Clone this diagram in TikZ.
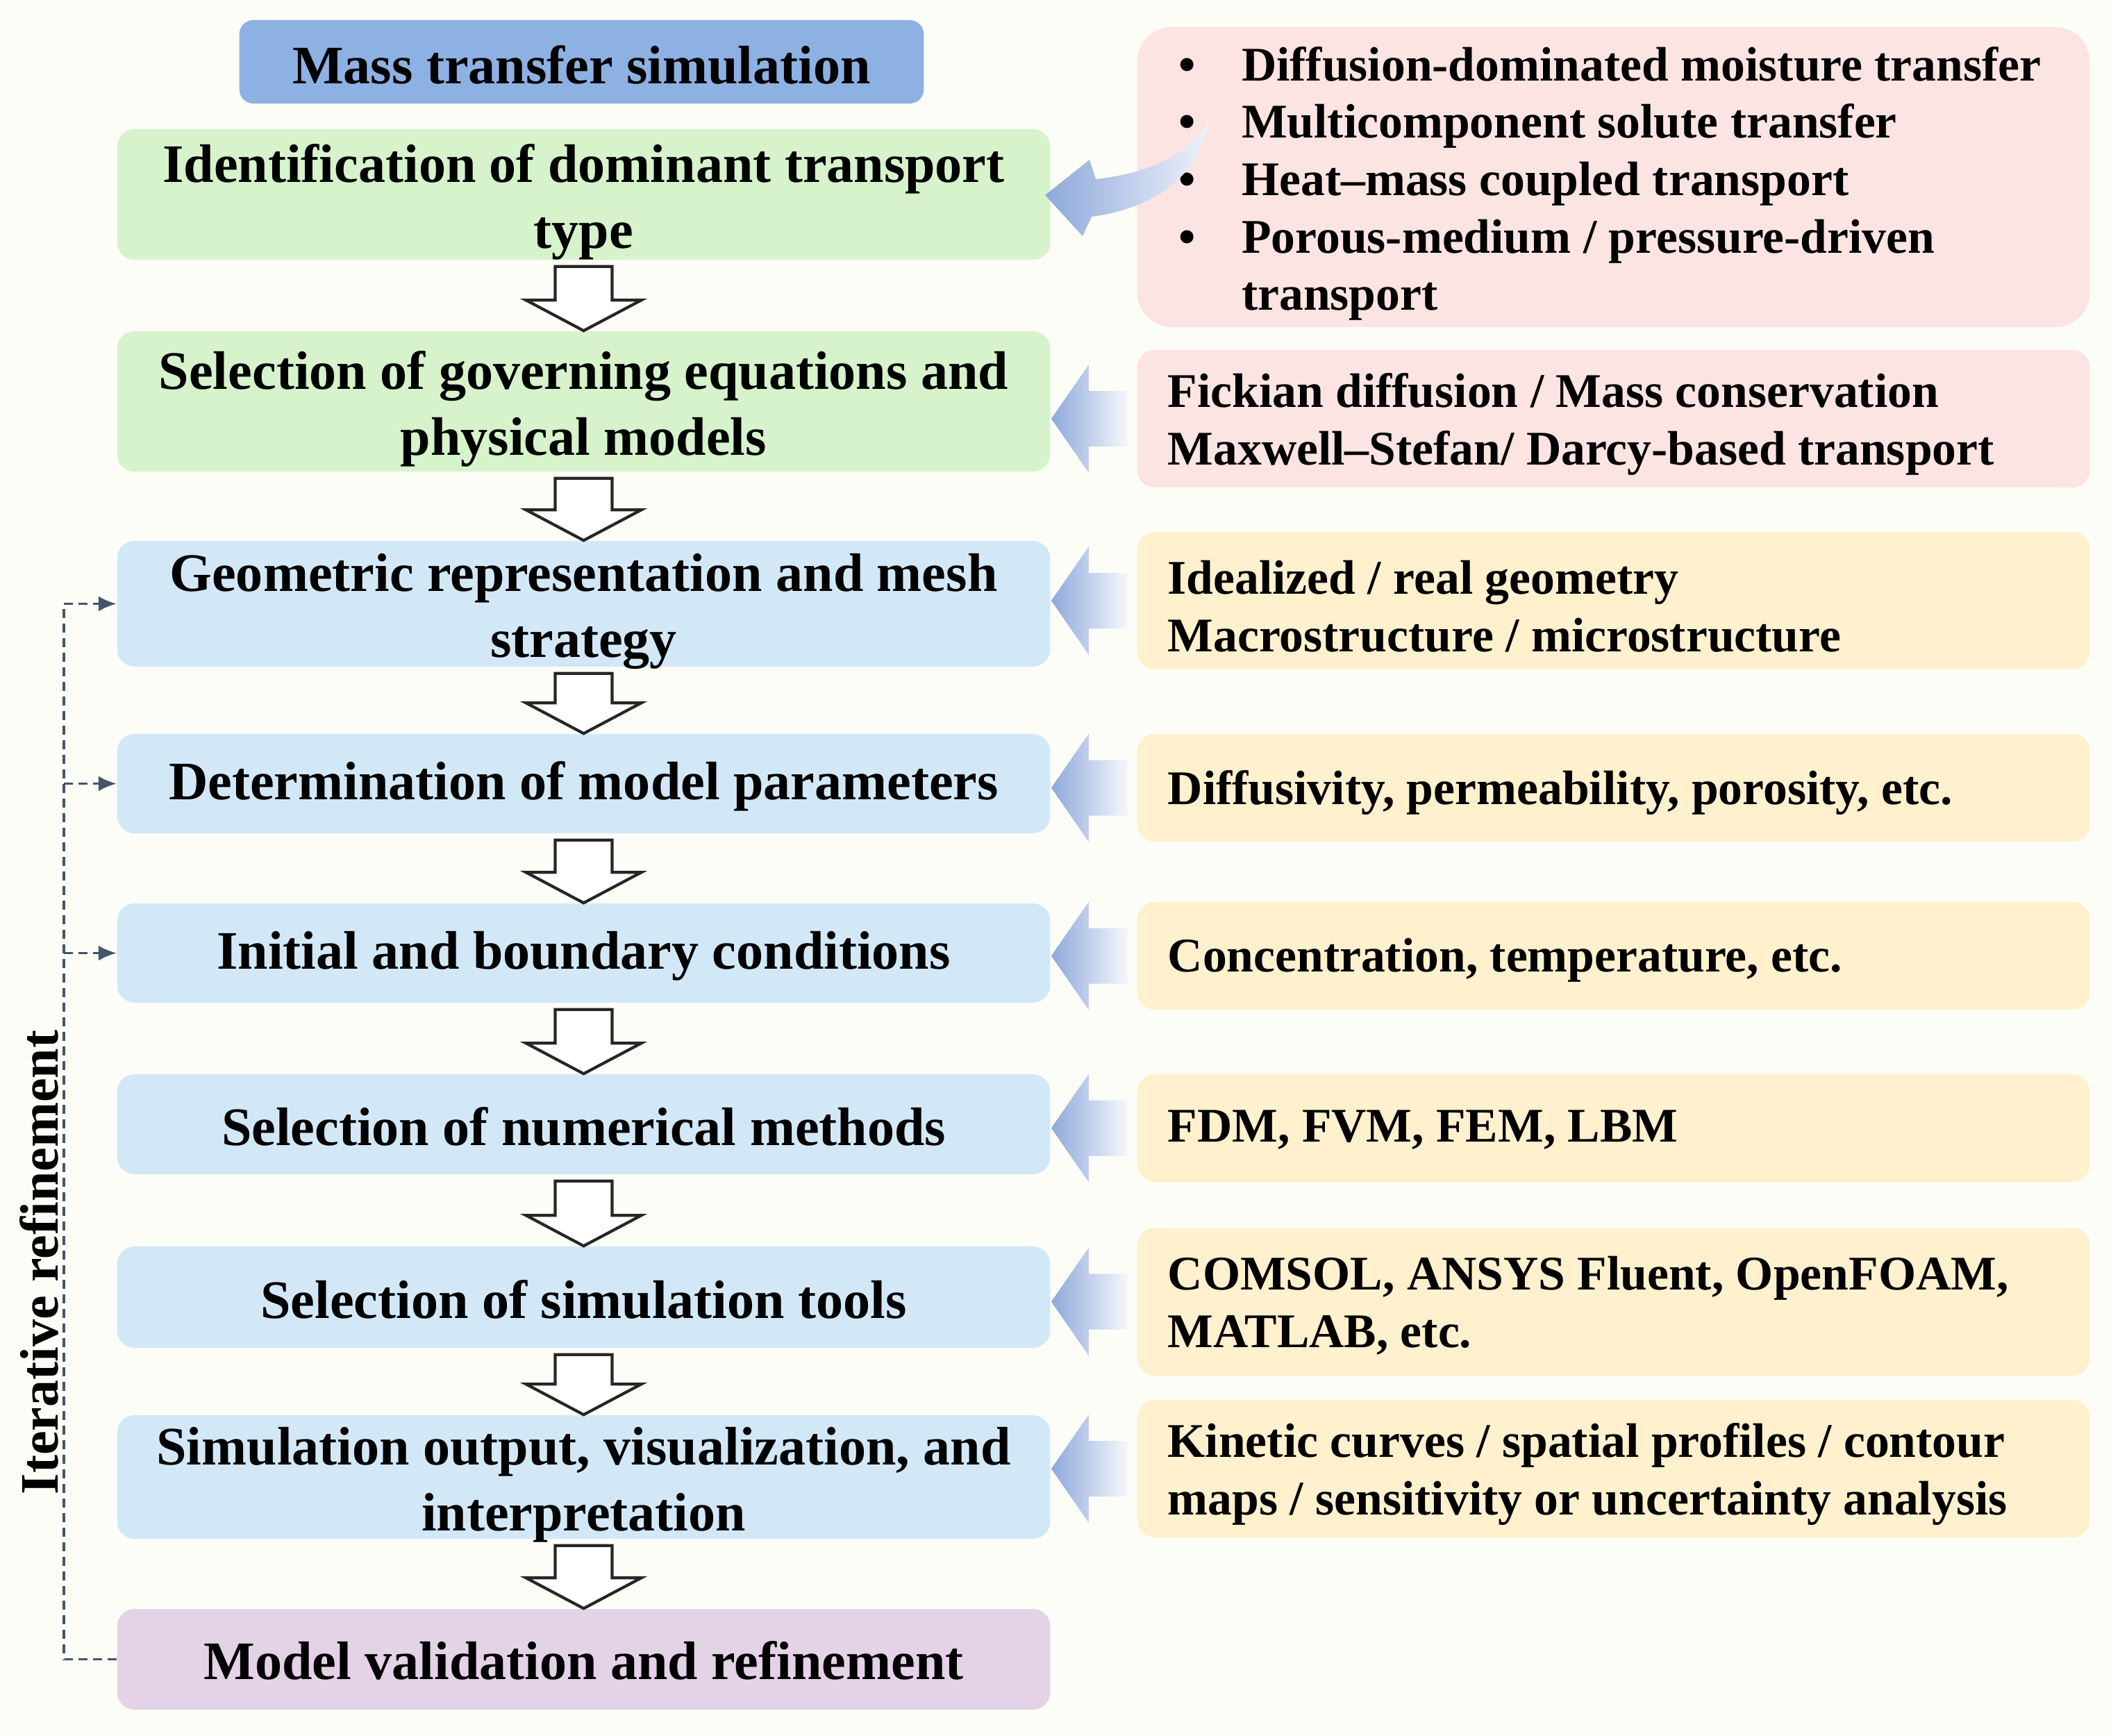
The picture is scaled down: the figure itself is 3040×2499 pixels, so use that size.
\documentclass[tikz,border=0pt]{standalone}
\usepackage{fontspec}
\setmainfont{Liberation Serif}
\usetikzlibrary{calc,arrows.meta}
\definecolor{bgc}{HTML}{FDFDF8}
\definecolor{titleblue}{HTML}{8EB1E3}
\definecolor{lgreen}{HTML}{D6F3CC}
\definecolor{lblue}{HTML}{D3E8F7}
\definecolor{lpink}{HTML}{FBE4E1}
\definecolor{lyellow}{HTML}{FFF0CE}
\definecolor{lpurple}{HTML}{E4D2E6}
\definecolor{dashc}{HTML}{44546A}
\definecolor{arrblue}{HTML}{8EA9DB}
\begin{document}
\begin{tikzpicture}[x=0.01cm,y=-0.01cm,
  lbox/.style={rounded corners=0.25cm, minimum width=13.43cm, inner sep=0pt},
  ltext/.style={align=center, font=\fontsize{22.2}{27}\selectfont\bfseries, inner sep=0pt},
  rbox/.style={rounded corners=0.25cm, minimum width=13.71cm, inner sep=0pt},
  rtext/.style={anchor=west, align=left, font=\fontsize{19.8}{23.5}\selectfont\bfseries, inner sep=0pt},
  hollow/.style={draw=black!85, line width=1.2pt, fill=white, line join=miter},
  sidearr/.style={left color=arrblue, right color=arrblue!8},
  fb/.style={draw=dashc, line width=1.1pt, dash pattern=on 0.13cm off 0.08cm},
]
\useasboundingbox[fill=bgc] (0,0) rectangle (3040,2499);

% title
\node[lbox, fill=titleblue, minimum width=9.85cm, minimum height=1.2cm, rounded corners=0.2cm] (title) at (837.5,89) {};
\node[ltext] (titletext) at ($(title.center)+(0,4)$) {Mass transfer simulation};

% left column boxes
\node[lbox, fill=lgreen, minimum height=1.88cm] (b1) at (840.5,280) {};
\node[lbox, fill=lgreen, minimum height=2.02cm] (b2) at (840.5,578) {};
\node[lbox, fill=lblue, minimum height=1.81cm] (b3) at (840.5,869.5) {};
\node[lbox, fill=lblue, minimum height=1.43cm] (b4) at (840.5,1128.5) {};
\node[lbox, fill=lblue, minimum height=1.43cm] (b5) at (840.5,1372.5) {};
\node[lbox, fill=lblue, minimum height=1.44cm] (b6) at (840.5,1619) {};
\node[lbox, fill=lblue, minimum height=1.46cm] (b7) at (840.5,1868) {};
\node[lbox, fill=lblue, minimum height=1.78cm] (b8) at (840.5,2127) {};
\node[lbox, fill=lpurple, minimum height=1.45cm] (b9) at (840.5,2389.5) {};

% left texts
\node[ltext] (lt1) at ($(b1.center)+(0,11)$) {Identification of dominant transport\\type};
\node[ltext] (lt2) at ($(b2.center)+(0,11)$) {Selection of governing equations and\\physical models};
\node[ltext] (lt3) at ($(b3.center)+(0,11)$) {Geometric representation and mesh\\strategy};
\node[ltext] (lt4) at ($(b4.center)+(0,4)$) {Determination of model parameters};
\node[ltext] (lt5) at ($(b5.center)+(0,4)$) {Initial and boundary conditions};
\node[ltext] (lt6) at ($(b6.center)+(0,3)$) {Selection of numerical methods};
\node[ltext] (lt7) at ($(b7.center)+(0,3)$) {Selection of simulation tools};
\node[ltext] (lt8) at ($(b8.center)+(0,11)$) {Simulation output, visualization, and\\interpretation};
\node[ltext] (lt9) at ($(b9.center)+(0,2)$) {Model validation and refinement};

% right column boxes
\node[rbox, fill=lpink, minimum height=4.32cm, rounded corners=0.5cm] (r1) at (2323.5,255) {};
\node[rbox, fill=lpink, minimum height=1.98cm] (r2) at (2323.5,603) {};
\node[rbox, fill=lyellow, minimum height=1.98cm] (r3) at (2323.5,865) {};
\node[rbox, fill=lyellow, minimum height=1.55cm] (r4) at (2323.5,1134.5) {};
\node[rbox, fill=lyellow, minimum height=1.55cm] (r5) at (2323.5,1376.5) {};
\node[rbox, fill=lyellow, minimum height=1.55cm] (r6) at (2323.5,1624.5) {};
\node[rbox, fill=lyellow, minimum height=2.13cm] (r7) at (2323.5,1874.5) {};
\node[rbox, fill=lyellow, minimum height=1.98cm] (r8) at (2323.5,2115) {};

% right texts
\node[rtext] (t1) at (1697,265) {\begin{tabular}{@{}l@{\hspace{0.66cm}}l@{}}
\textbullet & Diffusion-dominated moisture transfer\\
\textbullet & Multicomponent solute transfer\\
\textbullet & Heat--mass coupled transport\\
\textbullet & Porous-medium / pressure-driven\\
 & transport\end{tabular}};
\node[rtext] (t2) at (1681,611) {Fickian diffusion / Mass conservation\\Maxwell--Stefan/ Darcy-based transport};
\node[rtext] (t3) at (1681,873) {Idealized / real geometry\\Macrostructure / microstructure};
\node[rtext] (t4) at (1681,1141) {Diffusivity, permeability, porosity, etc.};
\node[rtext] (t5) at (1681,1383) {Concentration, temperature, etc.};
\node[rtext] (t6) at (1681,1627) {FDM, FVM, FEM, LBM};
\node[rtext] (t7) at (1681,1880) {COMSOL, ANSYS Fluent, OpenFOAM,\\MATLAB, etc.};
\node[rtext] (t8) at (1681,2123) {Kinetic curves / spatial profiles / contour\\maps / sensitivity or uncertainty analysis};

% down hollow arrows
\foreach \a/\b in {b1/b2,b2/b3,b3/b4,b4/b5,b5/b6,b6/b7,b7/b8,b8/b9}{
  \path (\a.south) ++(0,9) coordinate (tt);
  \draw[hollow] ($(tt)+(-41,0)$) -- ($(tt)+(41,0)$) -- ($(\b.north)+(41,-44)$) -- ($(\b.north)+(83,-44)$)
     -- (\b.north) -- ($(\b.north)+(-83,-44)$) -- ($(\b.north)+(-41,-44)$) -- cycle;
}

% side gradient arrows
\foreach \r in {r2,r3,r4,r5,r6,r7,r8}{
  \shade[sidearr] ($(\r.west)+(-12,-40)$) -- ($(\r.west)+(-69,-40)$) -- ($(\r.west)+(-69,-78)$)
    -- ($(\r.west)+(-123,0)$) -- ($(\r.west)+(-69,78)$) -- ($(\r.west)+(-69,40)$) -- ($(\r.west)+(-12,40)$) -- cycle;
}

% curved arrow from r1
\coordinate (ctail) at (1741,172);
\shade[sidearr, right color=arrblue!15] (ctail) .. controls (1715,225) and (1650,250) .. (1578,258)
  -- (1569,230) -- (1505,281) -- (1559,340) -- (1572,312)
  .. controls (1665,300) and (1730,250) .. (ctail) -- cycle;

% iterative refinement feedback
\node[rotate=90, font=\fontsize{22.2}{27}\selectfont\bfseries] (iter) at (56,1818) {Iterative refinement};
\draw[fb] (b9.west) -- ++(-76,0) coordinate (dl) -- (dl |- b3.west);
\foreach \n in {b3,b4,b5}{
  \draw[fb, -{Latex[length=0.26cm,width=0.22cm]}] (dl |- \n.west) -- (\n.west);
}
\end{tikzpicture}
\end{document}
